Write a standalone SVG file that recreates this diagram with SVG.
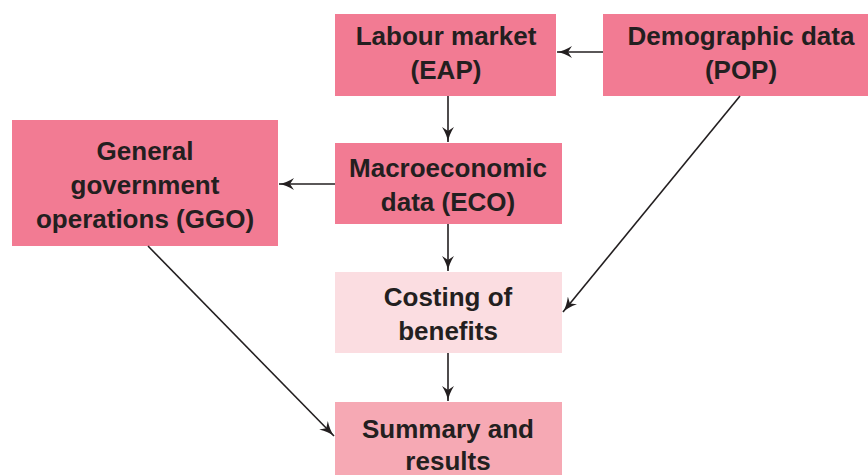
<svg xmlns="http://www.w3.org/2000/svg" width="868" height="475" viewBox="0 0 868 475">
<style>
.box{fill:#F27B93}
.light{fill:#FBDDE1}
.mid{fill:#F6A9B4}
text{font-family:"Liberation Sans",Arial,sans-serif;font-weight:bold;font-size:26px;fill:#231F20;text-anchor:middle}
.c{stroke:#231F20;stroke-width:1.6;fill:none;marker-end:url(#ah)}
</style>
<defs>
<marker id="ah" markerWidth="16" markerHeight="12" refX="15" refY="6" orient="auto" markerUnits="userSpaceOnUse">
<path d="M0,0 Q8,5 15,6 Q8,7 0,12 L4,6 z" fill="#231F20"/>
</marker>
</defs>
<rect width="868" height="475" fill="#fff"/>
<g id="labour"><rect class="box" x="335" y="14" width="221" height="82"/><text x="446" y="45">Labour market</text><text x="446" y="79">(EAP)</text></g>
<g id="demographic"><rect class="box" x="603" y="14" width="265" height="82"/><text x="741" y="45">Demographic data</text><text x="741" y="79">(POP)</text></g>
<g id="macro"><rect class="box" x="335" y="143" width="227" height="81"/><text x="448" y="177">Macroeconomic</text><text x="448" y="211">data (ECO)</text></g>
<g id="ggo"><rect class="box" x="12" y="120" width="266" height="126"/><text x="145" y="160">General</text><text x="145" y="194">government</text><text x="145" y="228">operations (GGO)</text></g>
<g id="costing"><rect class="light" x="335" y="272" width="227" height="81"/><text x="448" y="306">Costing of</text><text x="448" y="340">benefits</text></g>
<g id="summary"><rect class="mid" x="335" y="402" width="227" height="80"/><text x="448" y="438">Summary and</text><text x="448" y="470">results</text></g>
<g id="connectors">
<line class="c" x1="603" y1="52" x2="557" y2="52"/>
<line class="c" x1="448" y1="96" x2="448" y2="142"/>
<line class="c" x1="335" y1="184" x2="279" y2="184"/>
<line class="c" x1="448" y1="224" x2="448" y2="271"/>
<line class="c" x1="740" y1="96" x2="563" y2="312"/>
<line class="c" x1="148" y1="246" x2="334" y2="436"/>
<line class="c" x1="448" y1="353" x2="448" y2="401"/>
</g>
</svg>
